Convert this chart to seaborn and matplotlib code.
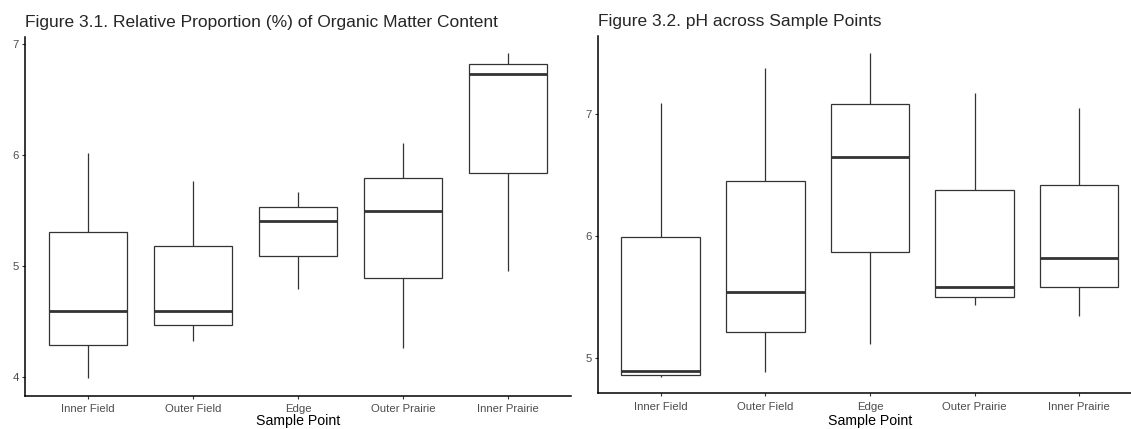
import numpy as np
import seaborn as sns
import matplotlib.pyplot as plt
import pandas as pd

sites = ["Inner Field", "Outer Field", "Edge", "Outer Prairie", "Inner Prairie"]

# organic matter (%) - five-number summary
om_min = [3.99, 4.33, 4.79, 4.26, 4.96]
om_q1 = [4.29, 4.47, 5.09, 4.89, 5.84]
om_med = [4.60, 4.60, 5.41, 5.50, 6.73]
om_q3 = [5.31, 5.18, 5.53, 5.79, 6.82]
om_max = [6.02, 5.77, 5.67, 6.11, 6.92]

# pH
ph_min = [4.84, 4.88, 5.11, 5.43, 5.34]
ph_q1 = [4.86, 5.21, 5.87, 5.50, 5.58]
ph_med = [4.89, 5.54, 6.65, 5.58, 5.82]
ph_q3 = [5.99, 6.45, 7.08, 6.38, 6.42]
ph_max = [7.09, 7.38, 7.50, 7.17, 7.05]


def long_df(mn, q1, md, q3, mx):
    rows = []
    for i, s in enumerate(sites):
        for v in [mn[i], q1[i], md[i], q3[i], mx[i]]:
            rows.append([s, v])
    return pd.DataFrame(rows, columns=["site", "value"])


om_df = long_df(om_min, om_q1, om_med, om_q3, om_max)
ph_df = long_df(ph_min, ph_q1, ph_med, ph_q3, ph_max)

sns.set_style("white")
plt.rcParams['font.family'] = ['Liberation Sans', 'DejaVu Sans']

fig = plt.figure(figsize=(11.31, 4.29), dpi=100)
ax1 = fig.add_axes([0.0221, 0.0769, 0.4828, 0.8369])
ax2 = fig.add_axes([0.5287, 0.0839, 0.4810, 0.8322])

line_col = "#333333"

for ax, df, title, ylim, yticks, xpad, lpad in [
    (ax1, om_df, "Figure 3.1. Relative Proportion (%) of Organic Matter Content", (3.83, 7.065), [4, 5, 6, 7], 3.3, 0.5),
    (ax2, ph_df, "Figure 3.2. pH across Sample Points", (4.71, 7.64), [5, 6, 7], 4.3, 1.5),
]:
    sns.boxplot(data=df, x="site", y="value", order=sites, ax=ax, color="white",
                linecolor=line_col, linewidth=0.9, width=0.75, whis=np.inf,
                showcaps=False, saturation=1,
                medianprops={"linewidth": 2, "color": line_col})
    ax.set_xlim(-0.6, 4.6)
    ax.set_ylim(*ylim)
    ax.set_yticks(yticks)
    ax.set_xlabel("Sample Point", fontsize=10.2, color="black", labelpad=lpad)
    ax.set_ylabel("")
    ax.set_title(title, loc="left", fontsize=12.5, pad=7)
    for side in ["top", "right"]:
        ax.spines[side].set_visible(False)
    for side in ["left", "bottom"]:
        ax.spines[side].set_color("black")
        ax.spines[side].set_linewidth(1.1)
    ax.tick_params(axis="both", which="major", labelsize=8.2, labelcolor="#4D4D4D",
                   color=line_col, length=2.2, width=0.8, left=True, bottom=True, pad=2)
    ax.tick_params(axis="x", pad=xpad)
    ax.grid(False)

fig.savefig("out.png", dpi=100)
